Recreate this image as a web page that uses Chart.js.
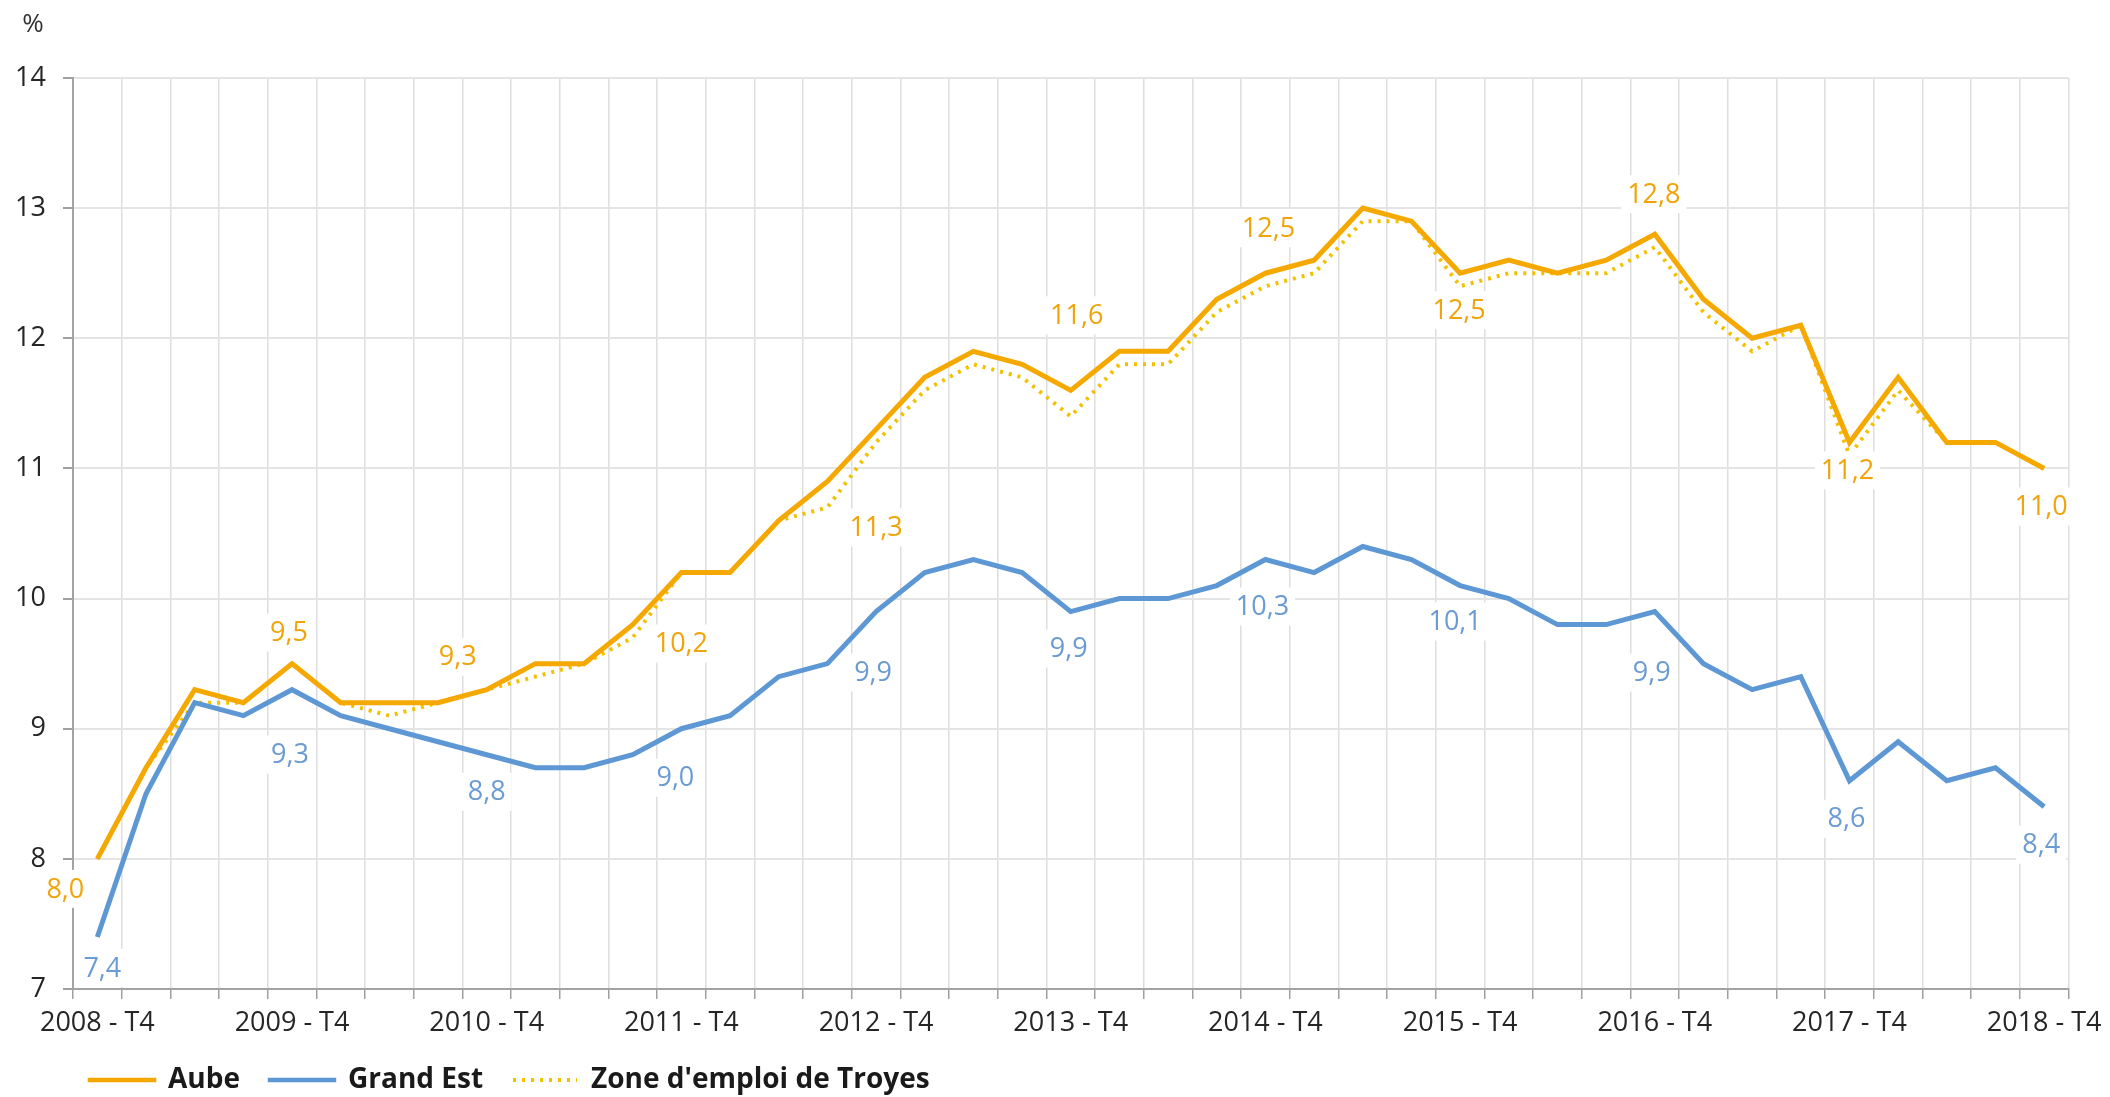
<!DOCTYPE html>
<html lang="fr">
<head>
<meta charset="utf-8">
<title>Taux de chômage – Aube, Grand Est, Zone d'emploi de Troyes</title>
<script src="https://cdn.jsdelivr.net/npm/chart.js@4.4.1/dist/chart.umd.min.js"></script>
<style>
  html, body { margin: 0; padding: 0; background: #fff; }
  #wrap { position: relative; width: 2110px; height: 1097px; }
</style>
</head>
<body>
<div id="wrap"><canvas id="chart" width="2110" height="1097"></canvas></div>
<script>
const quarters = [
  '2008 - T4',
  '2009 - T1', '2009 - T2', '2009 - T3', '2009 - T4',
  '2010 - T1', '2010 - T2', '2010 - T3', '2010 - T4',
  '2011 - T1', '2011 - T2', '2011 - T3', '2011 - T4',
  '2012 - T1', '2012 - T2', '2012 - T3', '2012 - T4',
  '2013 - T1', '2013 - T2', '2013 - T3', '2013 - T4',
  '2014 - T1', '2014 - T2', '2014 - T3', '2014 - T4',
  '2015 - T1', '2015 - T2', '2015 - T3', '2015 - T4',
  '2016 - T1', '2016 - T2', '2016 - T3', '2016 - T4',
  '2017 - T1', '2017 - T2', '2017 - T3', '2017 - T4',
  '2018 - T1', '2018 - T2', '2018 - T3', '2018 - T4'
];

// labels shown under the x axis
const tickLabels = ['2008 - T4', '2009 - T4', '2010 - T4', '2011 - T4', '2012 - T4',
  '2013 - T4', '2014 - T4', '2015 - T4', '2016 - T4', '2017 - T4', '2018 - T4'];

const aube = [8.0, 8.7, 9.3, 9.2, 9.5, 9.2, 9.2, 9.2, 9.3, 9.5,
  9.5, 9.8, 10.2, 10.2, 10.6, 10.9, 11.3, 11.7, 11.9, 11.8,
  11.6, 11.9, 11.9, 12.3, 12.5, 12.6, 13.0, 12.9, 12.5, 12.6,
  12.5, 12.6, 12.8, 12.3, 12.0, 12.1, 11.2, 11.7, 11.2, 11.2,
  11.0];

const grandEst = [7.4, 8.5, 9.2, 9.1, 9.3, 9.1, 9.0, 8.9, 8.8, 8.7,
  8.7, 8.8, 9.0, 9.1, 9.4, 9.5, 9.9, 10.2, 10.3, 10.2,
  9.9, 10.0, 10.0, 10.1, 10.3, 10.2, 10.4, 10.3, 10.1, 10.0,
  9.8, 9.8, 9.9, 9.5, 9.3, 9.4, 8.6, 8.9, 8.6, 8.7,
  8.4];

const zoneTroyes = [8.0, 8.7, 9.2, 9.2, 9.5, 9.2, 9.1, 9.2, 9.3, 9.4,
  9.5, 9.7, 10.2, 10.2, 10.6, 10.7, 11.2, 11.6, 11.8, 11.7,
  11.4, 11.8, 11.8, 12.2, 12.4, 12.5, 12.9, 12.9, 12.4, 12.5,
  12.5, 12.5, 12.7, 12.2, 11.9, 12.1, 11.1, 11.6, 11.2, 11.2,
  11.0];

const aubeColor = '#F5A800';
const grandEstColor = '#5E98D4';
const zoneColor = '#F2C100';

// value labels: point index -> [dx, dy] offset in px from the point
const aubeLabelPos = {
  0: [-32, 30], 4: [-3, -31], 8: [-29, -33], 12: [0, 71], 16: [0, 98],
  20: [6, -75], 24: [3, -45], 28: [-1, 37], 32: [-1, -40], 36: [-2, 28], 40: [-3, 38]
};
const grandEstLabelPos = {
  0: [5, 31], 4: [-2, 65], 8: [0, 37], 12: [-6, 49], 16: [-3, 61],
  20: [-2, 37], 24: [-3, 47], 28: [-5, 36], 32: [-3, 61], 36: [-3, 38], 40: [-3, 38]
};

const FONT = '"Open Sans", Roboto, "DejaVu Sans", sans-serif';

// draws the value labels on white boxes, from the points Chart.js computed
const valueLabels = {
  id: 'valueLabels',
  afterDatasetsDraw(chart) {
    const ctx = chart.ctx;
    ctx.save();
    ctx.font = '27px ' + FONT;
    ctx.textAlign = 'center';
    ctx.textBaseline = 'middle';
    chart.data.datasets.forEach((ds, di) => {
      if (!ds.valueLabels) return;
      const meta = chart.getDatasetMeta(di);
      Object.keys(ds.valueLabels).forEach(k => {
        const i = Number(k);
        const pt = meta.data[i];
        const [dx, dy] = ds.valueLabels[k];
        const text = ds.data[i].toFixed(1).replace('.', ',');
        const x = pt.x + dx;
        const y = pt.y + dy;
        const w = ctx.measureText(text).width;
        ctx.fillStyle = '#fff';
        ctx.fillRect(x - w / 2 - 6, y - 19, w + 12, 38);
        ctx.fillStyle = ds.labelColor;
        ctx.fillText(text, x, y + 1);
      });
    });
    ctx.restore();
  }
};

// "%" unit above the y axis
const unitLabel = {
  id: 'unitLabel',
  afterDraw(chart) {
    const ctx = chart.ctx;
    const area = chart.chartArea;
    ctx.save();
    ctx.font = '26px ' + FONT;
    ctx.fillStyle = '#333';
    ctx.textAlign = 'center';
    ctx.textBaseline = 'middle';
    ctx.fillText('%', area.left - 40, area.top - 53);
    ctx.restore();
  }
};

// move the legend row to where it sits in the original
const legendShift = {
  id: 'legendShift',
  afterLayout(chart) {
    chart.legend.left += 60;
    chart.legend.top -= 4;
  }
};

new Chart(document.getElementById('chart'), {
  type: 'line',
  data: {
    labels: quarters,
    datasets: [
      {
        label: 'Aube',
        data: aube,
        borderColor: aubeColor,
        backgroundColor: aubeColor,
        borderWidth: 5,
        pointRadius: 0,
        tension: 0,
        valueLabels: aubeLabelPos,
        labelColor: '#F0A409'
      },
      {
        label: 'Grand Est',
        data: grandEst,
        borderColor: grandEstColor,
        backgroundColor: grandEstColor,
        borderWidth: 5,
        pointRadius: 0,
        tension: 0,
        valueLabels: grandEstLabelPos,
        labelColor: '#6A9BD2'
      },
      {
        label: "Zone d'emploi de Troyes",
        data: zoneTroyes,
        borderColor: zoneColor,
        backgroundColor: zoneColor,
        borderWidth: 4,
        borderDash: [3, 6],
        pointRadius: 0,
        tension: 0
      }
    ]
  },
  options: {
    responsive: false,
    animation: false,
    layout: { padding: { left: 0, right: 38, top: 78, bottom: 0 } },
    scales: {
      x: {
        offset: true,
        grid: { offset: true, color: '#dedede', lineWidth: 1.5, tickLength: 10, tickColor: '#a0a0a0' },
        border: { color: '#a3a3a3', width: 2 },
        ticks: {
          autoSkip: false,
          maxRotation: 0,
          minRotation: 0,
          padding: 8,
          color: '#262626',
          font: { size: 27, family: FONT },
          callback(value) {
            const l = this.getLabelForValue(value);
            return tickLabels.includes(l) ? l : '';
          }
        },
        afterFit(scale) { scale.height = 51; }
      },
      y: {
        min: 7,
        max: 14,
        ticks: { stepSize: 1, padding: 17, color: '#262626', font: { size: 27, family: FONT } },
        grid: { color: '#e4e4e4', lineWidth: 2, tickLength: 10, tickColor: '#a0a0a0' },
        border: { color: '#a3a3a3', width: 2 },
        afterFit(scale) { scale.width = 73; }
      }
    },
    plugins: {
      tooltip: { enabled: false },
      legend: {
        position: 'bottom',
        align: 'start',
        maxHeight: 57,
        labels: {
          usePointStyle: true,
          pointStyle: 'line',
          pointStyleWidth: 64,
          padding: 30,
          color: '#1a1a1a',
          font: { size: 28, weight: 'bold', family: FONT },
          generateLabels(chart) {
            const items = Chart.defaults.plugins.legend.labels.generateLabels(chart);
            items.forEach(item => {
              const ds = chart.data.datasets[item.datasetIndex];
              item.strokeStyle = ds.borderColor;
              item.lineWidth = ds.borderDash ? ds.borderWidth : 4.5;
              item.lineDash = ds.borderDash || [];
              item.lineCap = ds.borderDash ? 'butt' : 'square';
            });
            return items;
          }
        }
      }
    }
  },
  plugins: [valueLabels, unitLabel, legendShift]
});
</script>
</body>
</html>
